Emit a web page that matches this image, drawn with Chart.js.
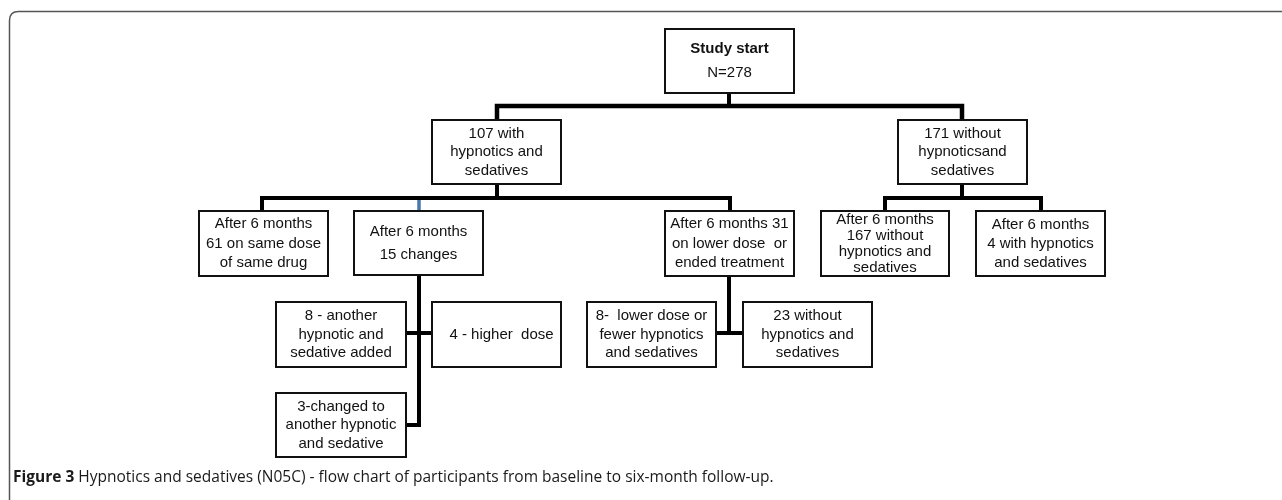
<!DOCTYPE html>
<html>
<head>
<meta charset="utf-8">
<script src="https://cdn.jsdelivr.net/npm/chart.js@4"></script>
<style>
html,body{margin:0;padding:0;background:#fff;}
#wrap{width:1282px;height:500px;}
</style>
</head>
<body>
<div id="wrap"><canvas id="c" width="1282" height="500"></canvas></div>
<script>
// ---- data (participant counts & labels) ----
const counts = [278, 107, 171, 61, 15, 31, 167, 4, 8, 4, 8, 23, 3];
const nodeLabels = [
  ["Study start", "N=278"],
  ["107 with", "hypnotics and", "sedatives"],
  ["171 without", "hypnoticsand", "sedatives"],
  ["After 6 months", "61 on same dose", "of same drug"],
  ["After 6 months", "15 changes"],
  ["After 6 months 31", "on lower dose  or", "ended treatment"],
  ["After 6 months", "167 without", "hypnotics and", "sedatives"],
  ["After 6 months", "4 with hypnotics", "and sedatives"],
  ["8 - another", "hypnotic and", "sedative added"],
  ["4 - higher  dose"],
  ["8-  lower dose or", "fewer hypnotics", "and sedatives"],
  ["23 without", "hypnotics and", "sedatives"],
  ["3-changed to", "another hypnotic", "and sedative"]
];
const captionBold = "Figure 3";
const captionText = " Hypnotics and sedatives (N05C) - flow chart of participants from baseline to six-month follow-up.";

// ---- layout (scale units) ----
const boxes = [
  [665, 29, 794, 93],
  [432, 120, 561, 184],
  [898, 120, 1027, 184],
  [199, 211, 328, 276],
  [354, 211, 483, 275],
  [665, 211, 794, 276],
  [821, 211, 949, 276],
  [976, 211, 1105, 276],
  [276, 302, 406, 367],
  [432, 302, 561, 367],
  [587, 302, 716, 367],
  [743, 302, 872, 367],
  [276, 393, 406, 457]
];
const lineGaps = [24, 18.5, 18.5, 19.5, 23, 19.5, 16, 19, 18.5, 18, 18.5, 18.5, 18.5];
const connectors = [
  {pts: [[729, 93], [729, 106]], w: 4},
  {pts: [[497, 120], [497, 106], [962, 106], [962, 120]], w: 4.5},
  {pts: [[497, 184], [497, 198]], w: 4},
  {pts: [[262, 211], [262, 198], [730, 198], [730, 211]], w: 4},
  {pts: [[419, 198.5], [419, 211]], w: 3.5, c: '#4a78b0'},
  {pts: [[962, 184], [962, 198]], w: 4},
  {pts: [[885, 211], [885, 198], [1041, 198], [1041, 211]], w: 4},
  {pts: [[419, 275], [419, 425], [406, 425]], w: 4},
  {pts: [[406, 333], [432, 333]], w: 4},
  {pts: [[729, 276], [729, 333]], w: 4},
  {pts: [[716, 333], [743, 333]], w: 4}
];

const datasets = connectors.map(c => ({
  type: 'line',
  data: c.pts.map(p => ({x: p[0], y: p[1]})),
  borderColor: c.c || '#000',
  borderWidth: c.w,
  pointRadius: 0,
  fill: false,
  tension: 0,
  borderJoinStyle: 'miter',
  borderCapStyle: 'butt'
}));

const flowPlugin = {
  id: 'flow',
  beforeDatasetsDraw(chart) {
    const ctx = chart.ctx, xs = chart.scales.x, ys = chart.scales.y;
    ctx.save();
    ctx.strokeStyle = '#555';
    ctx.lineWidth = 1.5;
    const fx = xs.getPixelForValue(9.5), fy = ys.getPixelForValue(11.5), r = 9;
    ctx.beginPath();
    ctx.moveTo(fx, ys.getPixelForValue(500));
    ctx.lineTo(fx, fy + r);
    ctx.quadraticCurveTo(fx, fy, fx + r, fy);
    ctx.lineTo(xs.getPixelForValue(1282), fy);
    ctx.stroke();
    ctx.restore();
  },
  afterDatasetsDraw(chart) {
    const ctx = chart.ctx, xs = chart.scales.x, ys = chart.scales.y;
    ctx.save();
    boxes.forEach((b, i) => {
      const x1 = xs.getPixelForValue(b[0]), y1 = ys.getPixelForValue(b[1]);
      const x2 = xs.getPixelForValue(b[2]), y2 = ys.getPixelForValue(b[3]);
      ctx.fillStyle = '#fff';
      ctx.fillRect(x1, y1, x2 - x1, y2 - y1);
      ctx.strokeStyle = '#111';
      ctx.lineWidth = 2;
      ctx.strokeRect(x1, y1, x2 - x1, y2 - y1);
      const lines = nodeLabels[i];
      const gap = lineGaps[i];
      const cy = (y1 + y2) / 2, cx = (x1 + x2) / 2;
      ctx.fillStyle = '#111';
      ctx.textAlign = 'center';
      ctx.textBaseline = 'middle';
      lines.forEach((t, k) => {
        ctx.font = (i === 0 && k === 0 ? 'bold ' : '') + '15px "Liberation Sans", Arial, sans-serif';
        const ty = cy + (k - (lines.length - 1) / 2) * gap;
        ctx.fillText(t, cx + (i === 9 ? 5 : 0), ty);
      });
    });
    const capX = xs.getPixelForValue(13), capY = ys.getPixelForValue(478);
    ctx.textAlign = 'left';
    ctx.textBaseline = 'middle';
    ctx.fillStyle = '#1a1a1a';
    ctx.font = 'bold 15.5px "Open Sans", sans-serif';
    ctx.fillText(captionBold, capX, capY);
    const w = ctx.measureText(captionBold).width;
    ctx.font = '15.5px "Open Sans", sans-serif';
    ctx.fillText(captionText, capX + w, capY);
    ctx.restore();
  }
};

new Chart(document.getElementById('c'), {
  type: 'scatter',
  data: {datasets},
  options: {
    responsive: false,
    animation: false,
    layout: {padding: 0},
    plugins: {legend: {display: false}, tooltip: {enabled: false}, title: {display: false}},
    scales: {
      x: {type: 'linear', min: 0, max: 1282, display: false},
      y: {type: 'linear', min: 0, max: 500, reverse: true, display: false}
    }
  },
  plugins: [flowPlugin]
});
</script>
</body>
</html>
